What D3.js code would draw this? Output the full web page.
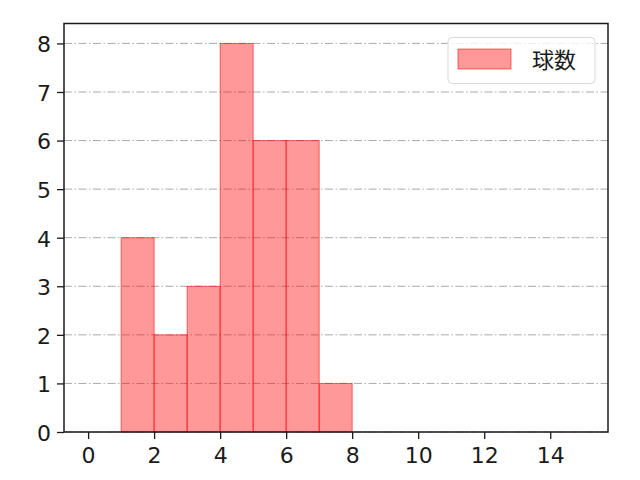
<!DOCTYPE html>
<html>
<head>
<meta charset="utf-8">
<script src="https://cdn.jsdelivr.net/npm/d3@7"></script>
<style>
  body { margin: 0; background: #fff; }
  text { font-family: "Noto Sans CJK JP", "DejaVu Sans", sans-serif; }
</style>
</head>
<body>
<svg id="chart" width="640" height="480"></svg>
<script>
// ビンの境界と度数
const binStarts = [1, 2, 3, 4, 5, 6, 7];
const binEnds = [2, 3, 4, 5, 6, 7, 8];
const counts = [4, 2, 3, 8, 6, 6, 1];
const xTicks = [0, 2, 4, 6, 8, 10, 12, 14];
const yTicks = [0, 1, 2, 3, 4, 5, 6, 7, 8];
const seriesName = "球数";

const svg = d3.select("#chart");
const plotLeft = 64, plotRight = 608, plotTop = 23.5, plotBottom = 432;

const x = d3.scaleLinear().domain([-0.73, 15.75]).range([plotLeft, plotRight]);
const y = d3.scaleLinear().domain([0, 8.41]).range([plotBottom, plotTop]);

// グリッド線
svg.append("g")
  .selectAll("line")
  .data(yTicks)
  .enter()
  .append("line")
  .attr("x1", plotLeft)
  .attr("x2", plotRight)
  .attr("y1", d => y(d))
  .attr("y2", d => y(d))
  .attr("stroke", "#aaaaaa")
  .attr("stroke-width", 1)
  .attr("stroke-dasharray", "8,2.5,1.5,2.5");

// 棒
svg.append("g")
  .selectAll("rect")
  .data(counts)
  .enter()
  .append("rect")
  .attr("x", (d, i) => x(binStarts[i]))
  .attr("width", (d, i) => x(binEnds[i]) - x(binStarts[i]))
  .attr("y", d => y(d))
  .attr("height", d => plotBottom - y(d))
  .attr("fill", "rgba(255,0,0,0.4)")
  .attr("stroke", "rgba(255,0,0,0.55)")
  .attr("stroke-width", 1);

// 軸
const xAxis = svg.append("g")
  .attr("transform", `translate(0,${plotBottom})`)
  .call(d3.axisBottom(x).tickValues(xTicks).tickSize(7).tickPadding(8).tickFormat(d3.format("d")));
const yAxis = svg.append("g")
  .attr("transform", `translate(${plotLeft},0)`)
  .call(d3.axisLeft(y).tickValues(yTicks).tickSize(7).tickPadding(6).tickFormat(d3.format("d")));

[xAxis, yAxis].forEach(g => {
  g.select(".domain").remove();
  g.selectAll(".tick line").attr("stroke", "#1a1a1a").attr("stroke-width", 1.3);
  g.selectAll(".tick text").attr("font-size", 22).attr("fill", "#1a1a1a")
    .style("font-family", "'DejaVu Sans', sans-serif");
});
yAxis.selectAll(".tick text").attr("dy", "0.38em");

// 枠
svg.append("rect")
  .attr("x", plotLeft)
  .attr("y", plotTop)
  .attr("width", plotRight - plotLeft)
  .attr("height", plotBottom - plotTop)
  .attr("fill", "none")
  .attr("stroke", "#1a1a1a")
  .attr("stroke-width", 1.5);

// 凡例
const legend = svg.append("g");
legend.append("rect")
  .attr("x", 448).attr("y", 37.5).attr("width", 147).attr("height", 46)
  .attr("rx", 4)
  .attr("fill", "#fff").attr("fill-opacity", 0.8)
  .attr("stroke", "#d9d9d9");
legend.append("rect")
  .attr("x", 458).attr("y", 49).attr("width", 53).attr("height", 20)
  .attr("fill", "rgba(255,0,0,0.4)")
  .attr("stroke", "rgba(255,0,0,0.55)");
legend.append("text")
  .attr("x", 532).attr("y", 68)
  .attr("font-size", 22)
  .attr("fill", "#1a1a1a")
  .text(seriesName);
</script>
</body>
</html>
